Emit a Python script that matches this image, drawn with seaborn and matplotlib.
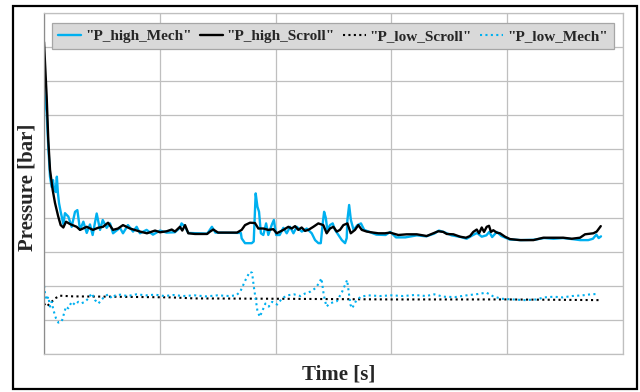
import matplotlib
matplotlib.use("Agg")
import matplotlib.pyplot as plt
import seaborn as sns
import pandas as pd
from matplotlib.patches import Rectangle

# ---------------- data (time in s, pressure in arbitrary bar units) ----------------
t_high_scroll = [0, 2.3, 3.7, 5.2, 7.5, 9.5, 12.3, 14.4, 16.7, 19, 22.5, 28.2, 31.1, 36.9, 42.3,
                 46.6, 51, 55.3, 59.6, 63.9, 68.2, 74.3, 82.9, 88.9, 95.9, 100.2, 106, 110.3,
                 113.1, 117.4, 119.4, 121.8, 124.6, 130.4, 140.8, 143.4, 146.2, 150.3, 156.3,
                 166.7, 170.7, 173.6, 177.9, 182.2, 185.1, 189.4, 193.7, 198, 201, 206.7, 211,
                 213.9, 216.8, 219.6, 222.5, 225.4, 228.3, 232.6, 236.9, 241.2, 244.1, 247,
                 249.9, 252.8, 255.6, 258.5, 262, 264.9, 268.6, 271.4, 274.4, 278.7, 284.4,
                 288.7, 294.5, 298.8, 306, 313.2, 321.9, 330.5, 336.2, 340.5, 344.8, 347.8,
                 353.5, 359.3, 364.4, 367.9, 370.7, 373.7, 375.7, 378, 380, 382.3, 384.3, 386,
                 388, 390.9, 393.8, 398.1, 402.4, 411.1, 422.6, 431.2, 439.8, 448.5, 455.7,
                 462.9, 467.2, 474.4, 477.3, 480.8]
p_high_scroll = [9.15, 7.55, 6.27, 5.4, 4.81, 4.43, 4.03, 3.78, 3.71, 3.88, 3.81, 3.73, 3.64, 3.73, 3.64,
                 3.70, 3.73, 3.85, 3.64, 3.68, 3.78, 3.68, 3.59, 3.54, 3.62, 3.57, 3.60, 3.65,
                 3.59, 3.73, 3.62, 3.78, 3.54, 3.52, 3.52, 3.59, 3.65, 3.56, 3.56,
                 3.56, 3.64, 3.78, 3.85, 3.84, 3.68, 3.68, 3.64, 3.66, 3.54, 3.64, 3.73,
                 3.68, 3.75, 3.64, 3.71, 3.61, 3.64, 3.73, 3.83, 3.78, 3.54, 3.68,
                 3.73, 3.59, 3.64, 3.78, 3.83, 3.54, 3.64, 3.78, 3.64, 3.59, 3.56,
                 3.54, 3.54, 3.56, 3.49, 3.51, 3.51, 3.46, 3.54, 3.60, 3.58, 3.52,
                 3.51, 3.44, 3.41, 3.46, 3.58, 3.65, 3.54, 3.71, 3.58, 3.73, 3.76, 3.58,
                 3.63, 3.56, 3.54, 3.44, 3.37, 3.34, 3.34, 3.41, 3.41, 3.41, 3.38,
                 3.41, 3.51, 3.54, 3.59, 3.75]

t_high_mech = [0, 0.5, 2.3, 3.7, 5.2, 6.6, 7.8, 8.6, 10.1, 11.1, 12, 13, 14.4, 16.7, 18.1, 21, 23.9,
               26.8, 28.8, 31.1, 34, 36.9, 39.7, 42, 45.5, 48.4, 50.7, 54.1, 57, 59.6, 65.6, 68.2,
               72.5, 76.9, 80, 82.9, 88.6, 94.1, 100.2, 105.9, 113, 117.4, 118.8, 121.8, 124.6,
               141, 145, 148, 170, 170.7, 173.6, 179.4, 181.1, 181.9, 182.8, 184.3, 185.7, 187.3,
               189.4, 191.8, 193.7, 196.6, 198.5, 200.5, 203.5, 206.7, 209.6, 212.5, 215.4, 218.3,
               222.6, 226.9, 231.2, 234.1, 237, 239, 240.7, 241.9, 243.3, 244.7, 247, 249.3,
               251.3, 254.2, 257.2, 260, 261.4, 262, 263.5, 265, 267.3, 270.7, 273.7, 276.5,
               280.3, 287, 295, 299, 304, 312, 322, 330, 337, 341, 345, 352, 360, 365, 370, 374,
               378, 382, 384.5, 387, 391, 395, 402, 412, 423, 432, 440, 448, 456, 463, 470, 474,
               477, 479, 481]
p_high_mech = [8.1, 7.6, 7.07, 6.08, 5.2, 4.9, 5.1, 4.85, 4.75, 5.2, 4.72, 4.42, 4.17, 3.81, 4.13, 4.03, 3.73,
               4.17, 4.22, 3.64, 3.88, 3.55, 3.80, 3.49, 4.12, 3.64, 3.93, 3.70, 3.83, 3.54, 3.70, 3.54,
               3.78, 3.59, 3.73, 3.54, 3.64, 3.50, 3.62, 3.56, 3.57, 3.70, 3.83, 3.73, 3.55,
               3.53, 3.73, 3.56, 3.55, 3.39, 3.25, 3.25, 3.30, 3.93, 4.71, 4.32, 4.17, 3.54,
               3.49, 3.83, 3.49, 3.78, 3.93, 3.49, 3.49, 3.70, 3.54, 3.73, 3.54, 3.73,
               3.59, 3.68, 3.54, 3.34, 3.25, 3.25, 3.83, 4.17, 4.00, 3.64, 3.78, 3.83,
               3.64, 3.49, 3.34, 3.25, 3.40, 3.93, 4.37, 3.93, 3.64, 3.78, 3.83, 3.64,
               3.59, 3.50, 3.49, 3.58, 3.42, 3.42, 3.48, 3.45, 3.53, 3.62, 3.58, 3.48, 3.43, 3.38, 3.48, 3.55,
               3.44, 3.48, 3.58, 3.43, 3.58, 3.46, 3.36, 3.34, 3.35, 3.40, 3.38, 3.40, 3.37, 3.34, 3.34, 3.38,
               3.50, 3.40, 3.45]

t_low_scroll = [0, 2.3, 6.6, 9.5, 13.8, 25, 60, 110, 130, 200, 300, 400, 480]
p_low_scroll = [1.48, 1.39, 1.53, 1.63, 1.71, 1.69, 1.68, 1.66, 1.63, 1.62, 1.60, 1.60, 1.58]

t_low_mech = [0, 0.9, 2.3, 3.7, 5.2, 6.6, 8.1, 10.4, 12.4, 15.3, 17.3, 19, 21, 23.9, 26.8, 29.6, 32.5,
              35.4, 38.3, 41.2, 44.1, 47, 49.9, 52.8, 55.7, 58.6, 61.6, 66, 72, 80, 88, 96, 104, 112,
              120, 130, 140, 150, 160, 166, 169.5, 174, 177.7, 179.7, 181.2, 182.7, 184.2, 186.3,
              188.4, 191.2, 194.1, 197, 201.3, 205.6, 210, 215.8, 221.5, 225.8, 230.1, 234.4, 237.3,
              239.6, 241.6, 243.9, 246.8, 250, 253, 257.5, 261.8, 263.2, 264.7, 266.1, 269, 273.4,
              280, 290, 300, 310, 320, 330, 337, 345, 355, 365, 375, 382, 388, 395, 405, 415, 425,
              432, 440, 448, 456, 465, 472, 478]
p_low_mech = [2.0, 1.78, 1.58, 1.68, 1.39, 1.53, 1.29, 1.04, 0.92, 0.95, 1.19, 1.39, 1.34, 1.53, 1.44, 1.53, 1.49,
              1.53, 1.63, 1.78, 1.58, 1.48, 1.60, 1.70, 1.75, 1.63, 1.72, 1.74, 1.70, 1.75, 1.72, 1.74, 1.70, 1.73,
              1.70, 1.72, 1.69, 1.72, 1.70, 1.72, 1.83, 2.17, 2.41, 2.38, 1.97, 1.63, 1.29, 1.09,
              1.25, 1.48, 1.39, 1.53, 1.45, 1.63, 1.72, 1.75, 1.70, 1.78, 1.83, 1.93, 2.07,
              2.22, 1.73, 1.39, 1.48, 1.52, 1.55, 1.83, 2.17, 1.80, 1.44, 1.34, 1.53, 1.68,
              1.72, 1.70, 1.72, 1.70, 1.73, 1.70, 1.75, 1.68, 1.67, 1.72, 1.76, 1.80, 1.69, 1.62, 1.60, 1.58, 1.60,
              1.66, 1.68, 1.66, 1.70, 1.72, 1.75, 1.76]

series_names = ['"P_high_Mech"', '"P_high_Scroll"', '"P_low_Scroll"', '"P_low_Mech"']
x_label = "Time [s]"
y_label = "Pressure [bar]"

# ---------------- styling ----------------
sns.set_style("white")
plt.rcParams["font.family"] = ["Liberation Serif", "DejaVu Serif"]

BLUE = "#00B0F0"
BLACK = "#000000"

fig = plt.figure(figsize=(6.4, 3.92), dpi=100)
ax = fig.add_axes([44 / 640, 1 - 354 / 392, (623 - 44) / 640, (354 - 13) / 392])

series = [
    (t_high_mech, p_high_mech, BLUE, "-", 1.7),
    (t_high_scroll, p_high_scroll, BLACK, "-", 1.7),
    (t_low_scroll, p_low_scroll, BLACK, (0, (1, 1.6)), 1.5),
    (t_low_mech, p_low_mech, BLUE, (0, (1, 1.6)), 1.5),
]
for (t, p, c, ls, lw), name in zip(series, series_names):
    df = pd.DataFrame({"t": t, "p": p})
    sns.lineplot(data=df, x="t", y="p", ax=ax, color=c, linestyle=ls, linewidth=lw,
                 label=name, sort=False, estimator=None)

ax.set_xlim(0, 500)
ax.set_ylim(0, 10)
ax.set_xticks([0, 100, 200, 300, 400, 500])
ax.set_yticks(range(0, 11))
ax.tick_params(length=0, labelleft=False, labelbottom=False)
ax.grid(True, color="#bfbfbf", linewidth=0.9)
for s in ax.spines.values():
    s.set_color("#bfbfbf")
    s.set_linewidth(0.9)
ax.spines["left"].set_color("#8c8c8c")

ax.set_xlabel(x_label, fontsize=15, fontweight="bold", va="top")
ax.xaxis.set_label_coords((339 - 44) / 579, -0.03)
ax.set_ylabel(y_label, fontsize=15, fontweight="bold")
ax.yaxis.set_label_coords(-0.012, 0.49)

leg = ax.legend(loc="lower left", bbox_to_anchor=(8 / 579, (354 - 49) / 341, 562 / 579, 32 / 341),
                mode="expand", ncol=4, frameon=True, fancybox=False, handlelength=1.5,
                handletextpad=0.25, columnspacing=0.6, borderaxespad=0,
                prop={"family": "Liberation Serif", "weight": "bold", "size": 11})
frame = leg.get_frame()
frame.set_facecolor("#d9d9d9")
frame.set_edgecolor("#a6a6a6")
frame.set_alpha(1)
frame.set_linewidth(0.9)

# outer border around the chart
fig.patches.append(Rectangle((13 / 640, 3 / 392), 624 / 640, 383 / 392, transform=fig.transFigure,
                             fill=False, edgecolor="black", linewidth=1.6))

fig.savefig("out.png", dpi=100)
